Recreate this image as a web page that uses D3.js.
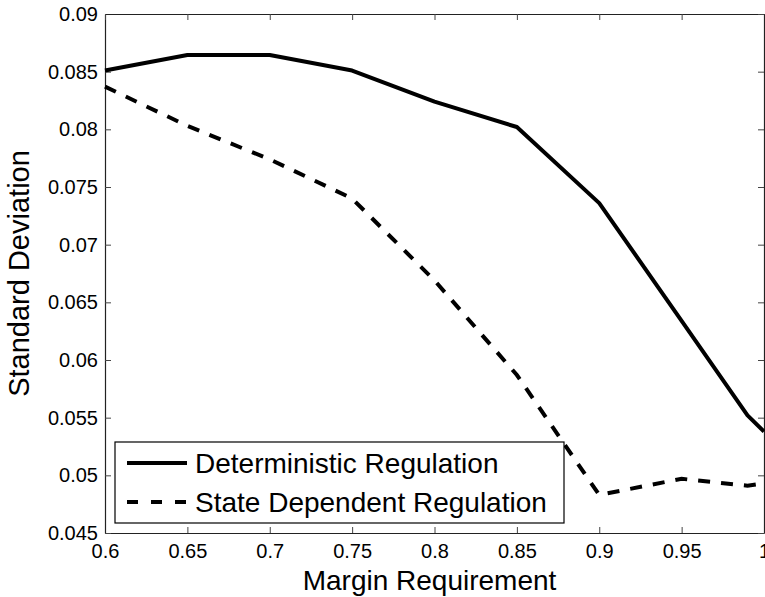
<!DOCTYPE html>
<html>
<head>
<meta charset="utf-8">
<script src="https://cdn.jsdelivr.net/npm/d3@7"></script>
<style>
  body { margin: 0; background: #fff; }
  text { font-family: "Liberation Sans", Arial, sans-serif; fill: #000; }
</style>
</head>
<body>
<div id="chart"></div>
<script>
// data
var margin_req = [0.6, 0.65, 0.7, 0.75, 0.8, 0.85, 0.9, 0.95, 0.99, 1.0];
var deterministic = [0.0851, 0.08645, 0.08645, 0.0851, 0.0824, 0.0802, 0.0736, 0.0634, 0.0552, 0.0538];
var state_dependent = [0.0837, 0.0803, 0.0774, 0.0740, 0.0669, 0.0587, 0.0483, 0.0497, 0.0491, 0.0493];
var x_ticks = [0.6, 0.65, 0.7, 0.75, 0.8, 0.85, 0.9, 0.95, 1];
var y_ticks = [0.045, 0.05, 0.055, 0.06, 0.065, 0.07, 0.075, 0.08, 0.085, 0.09];
var series_names = ["Deterministic Regulation", "State Dependent Regulation"];

var W = 765, H = 597;
var margin = {top: 14, right: 1, bottom: 64, left: 105},
    width = W - margin.left - margin.right,
    height = H - margin.top - margin.bottom;

var svg = d3.select("#chart")
  .append("svg")
    .attr("width", W)
    .attr("height", H)
  .append("g")
    .attr("transform", "translate(" + margin.left + "," + margin.top + ")");

var x = d3.scaleLinear().domain([0.6, 1]).range([0, width]);
var y = d3.scaleLinear().domain([0.045, 0.09]).range([height, 0]);

function fmt(d) { return String(+d.toFixed(3)); }

// axes, ticks pointing inward, mirrored on top and right
var xb = svg.append("g")
  .attr("transform", "translate(0," + height + ")")
  .call(d3.axisBottom(x).tickValues(x_ticks).tickSizeInner(-6).tickSizeOuter(0).tickPadding(9).tickFormat(fmt));
var yl = svg.append("g")
  .call(d3.axisLeft(y).tickValues(y_ticks).tickSizeInner(-6).tickSizeOuter(0).tickPadding(7).tickFormat(fmt));
var xt = svg.append("g")
  .call(d3.axisTop(x).tickValues(x_ticks).tickSizeInner(-6).tickSizeOuter(0).tickFormat(""));
var yr = svg.append("g")
  .attr("transform", "translate(" + width + ",0)")
  .call(d3.axisRight(y).tickValues(y_ticks).tickSizeInner(-6).tickSizeOuter(0).tickFormat(""));

[xb, yl, xt, yr].forEach(function(g) {
  g.select(".domain").attr("stroke", "#222").attr("stroke-width", 1.2);
  g.selectAll(".tick line").attr("stroke", "#444");
  g.selectAll(".tick text").style("font-size", "20px").attr("fill", "#000");
});
xb.selectAll(".tick text").attr("dy", "0.8em");

// lines
var line = d3.line()
  .x(function(d, i) { return x(margin_req[i]); })
  .y(function(d) { return y(d); });

svg.append("path")
  .datum(deterministic)
  .attr("fill", "none")
  .attr("stroke", "#000")
  .attr("stroke-width", 4)
  .attr("stroke-linejoin", "round")
  .attr("d", line);

svg.append("path")
  .datum(state_dependent)
  .attr("fill", "none")
  .attr("stroke", "#000")
  .attr("stroke-width", 4)
  .attr("stroke-dasharray", "12,11")
  .attr("d", line);

// legend
var lg = svg.append("g").attr("transform", "translate(10,428)");
lg.append("rect")
  .attr("width", 449).attr("height", 81)
  .attr("fill", "#fff").attr("stroke", "#000").attr("stroke-width", 1.2);
series_names.forEach(function(name, i) {
  var yy = 21 + i * 39;
  lg.append("line")
    .attr("x1", 12).attr("x2", 72).attr("y1", yy).attr("y2", yy)
    .attr("stroke", "#000").attr("stroke-width", 4)
    .attr("stroke-dasharray", i == 1 ? "11,13" : null);
  lg.append("text")
    .attr("x", 80).attr("y", yy).attr("dy", "0.36em")
    .style("font-size", "28px")
    .text(name);
});

// axis titles
svg.append("text")
  .attr("x", width / 2 - 5).attr("y", height + 57)
  .attr("text-anchor", "middle")
  .style("font-size", "28px")
  .text("Margin Requirement");

svg.append("text")
  .attr("transform", "translate(-76," + (height / 2) + ")rotate(-90)")
  .attr("text-anchor", "middle")
  .style("font-size", "29px")
  .text("Standard Deviation");
</script>
</body>
</html>
